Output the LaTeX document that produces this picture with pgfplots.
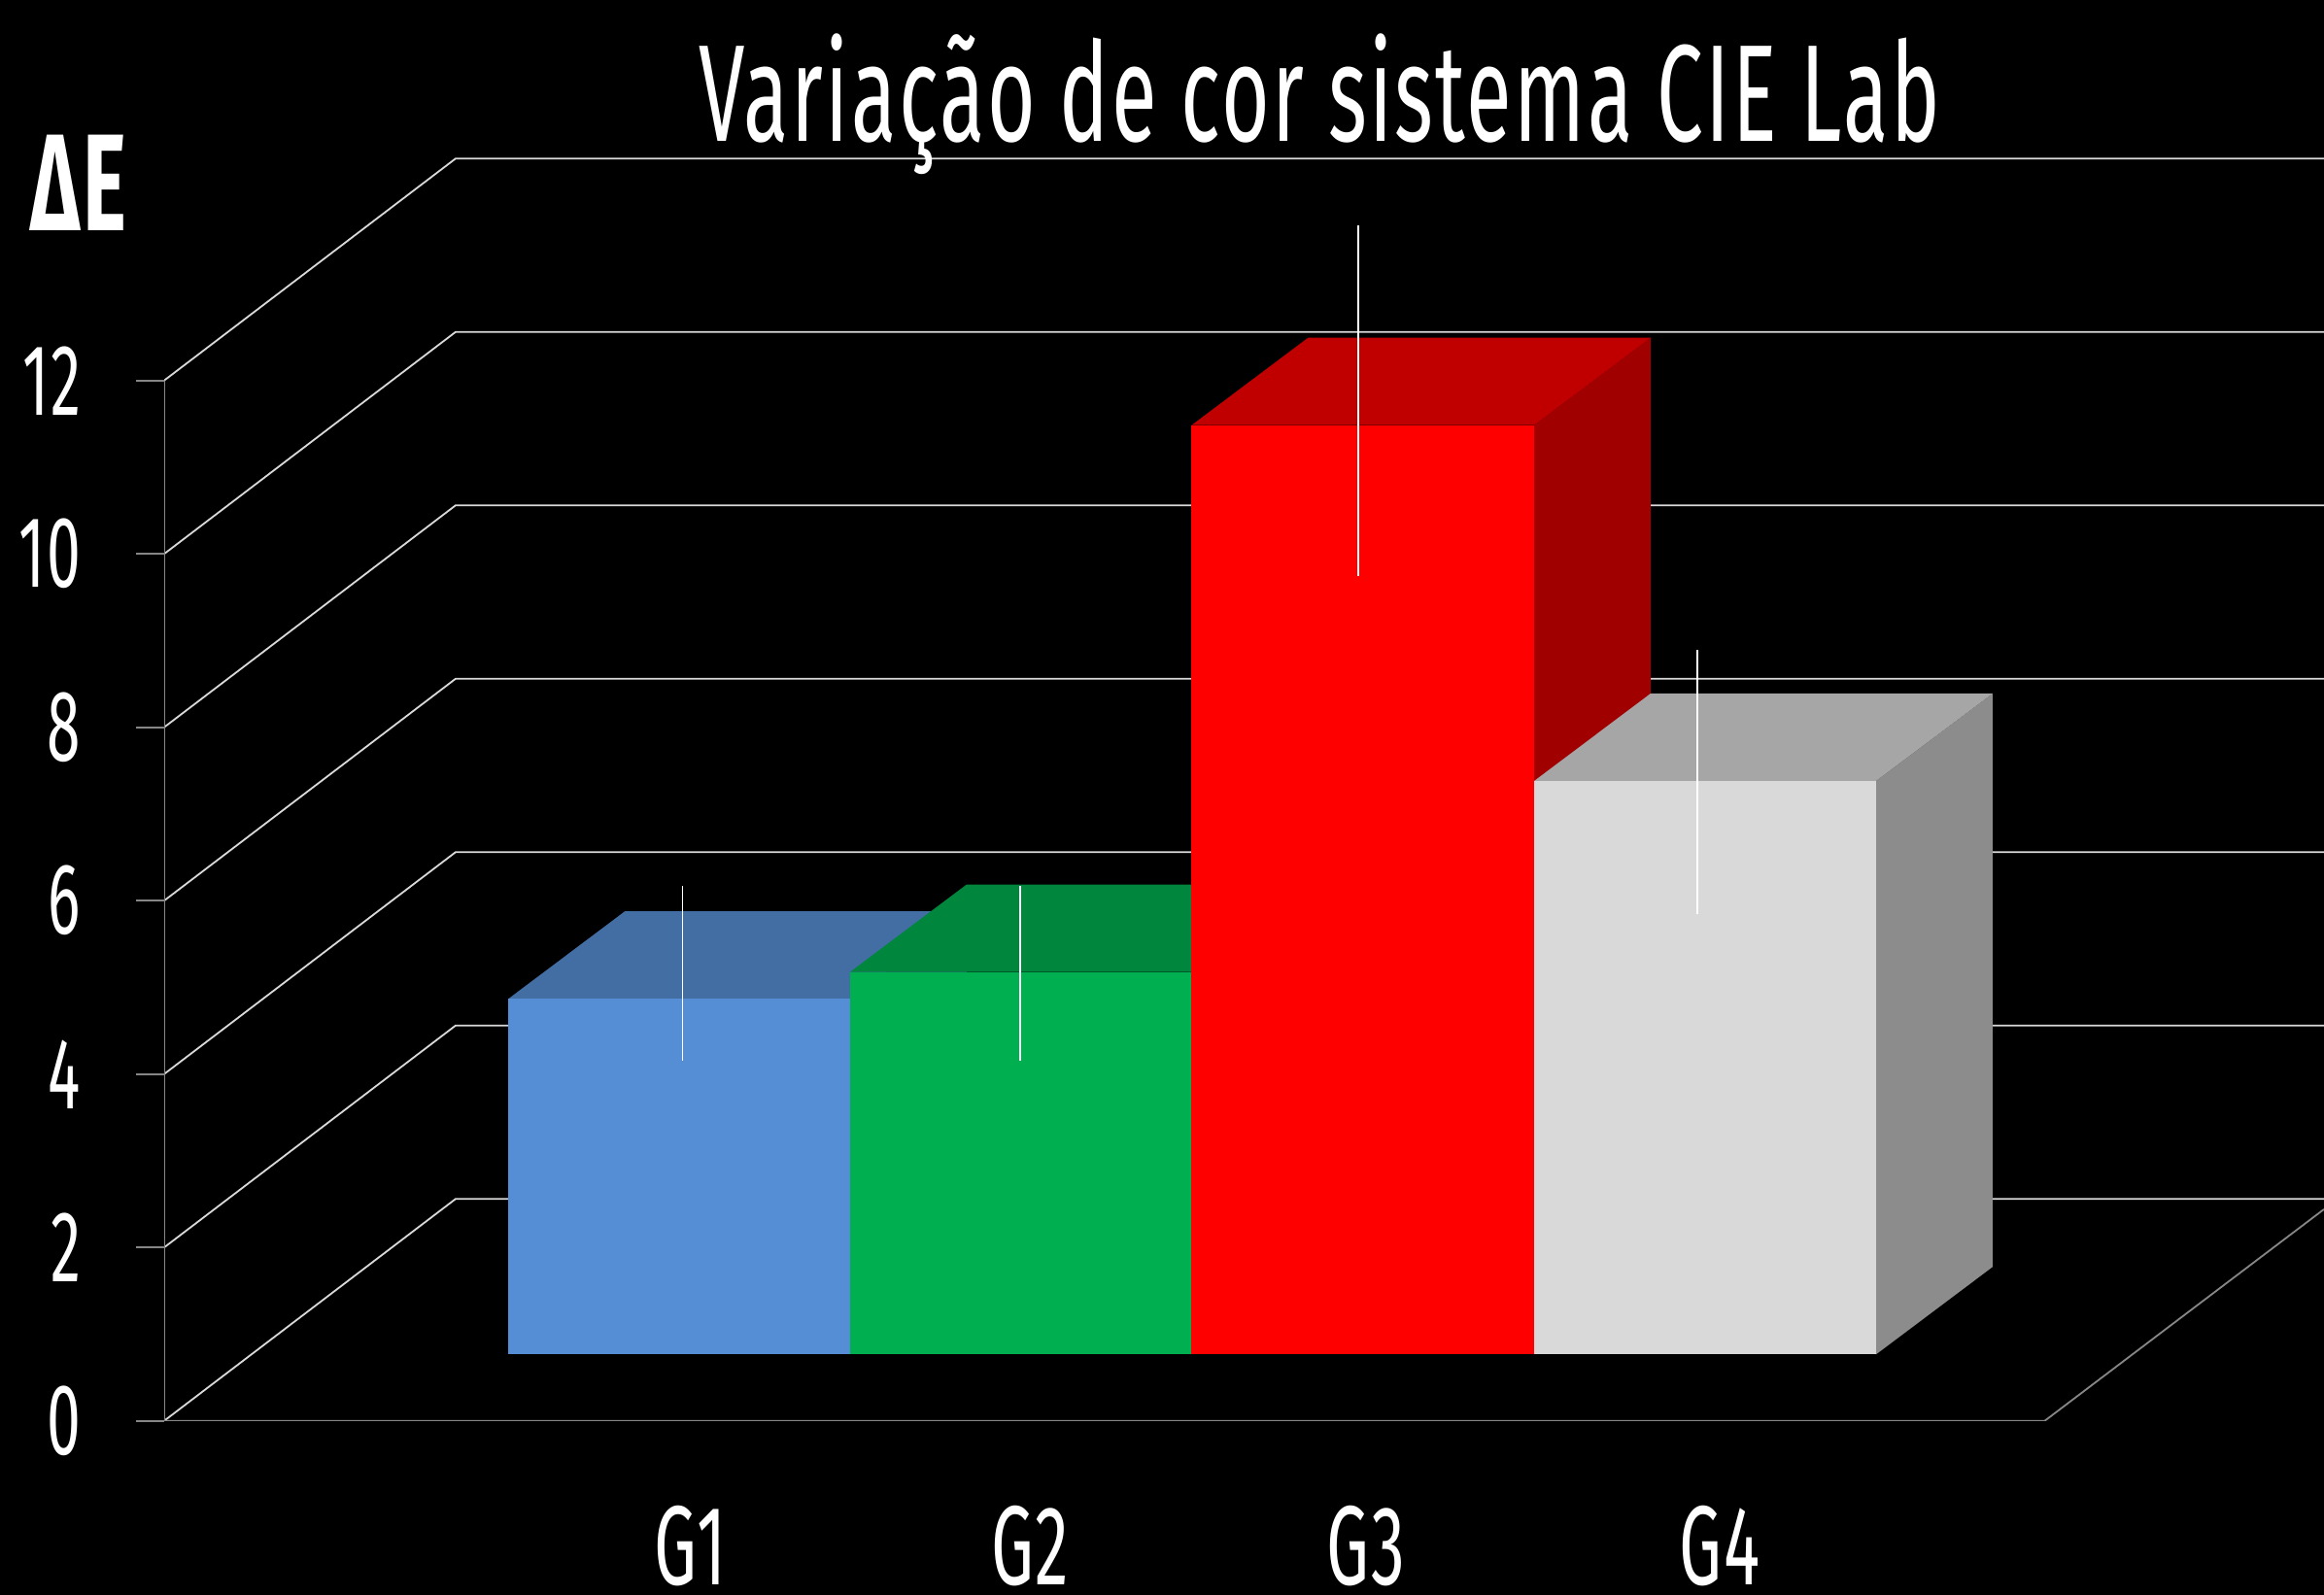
\documentclass[border=0pt]{standalone}
\usepackage{fontspec}
\setmainfont[FakeStretch=0.6,LetterSpace=1.7]{Fira Sans}
\usepackage{pgfplots}
\pgfplotsset{compat=1.18}
\definecolor{gridc}{HTML}{D9D9D9}
\definecolor{axisc}{HTML}{868686}
\definecolor{gAf}{HTML}{558ED5}\definecolor{gAt}{HTML}{426EA3}\definecolor{gAs}{HTML}{345882}
\definecolor{gBf}{HTML}{00B050}\definecolor{gBt}{HTML}{00863D}\definecolor{gBs}{HTML}{006E32}
\definecolor{gCf}{HTML}{FF0000}\definecolor{gCt}{HTML}{C00000}\definecolor{gCs}{HTML}{A00000}
\definecolor{gDf}{HTML}{D9D9D9}\definecolor{gDt}{HTML}{A6A6A6}\definecolor{gDs}{HTML}{8C8C8C}
\begin{document}
\begin{tikzpicture}
\path[use as bounding box, fill=black] (0,0) rectangle (1196pt,821pt);
\begin{axis}[
  at={(84.5pt,89.65pt)}, anchor=south west,
  scale only axis, width=1111.5pt, height=731.35pt,
  xmin=169, xmax=2392, ymin=0, ymax=16.389,
  axis line style={draw=none},
  xtick={711,1060,1406,1770},
  xticklabels={G1,G2,G3,G4},
  ytick={0,2,4,6,8,10,12},
  tick align=outside,
  xtick style={draw=none},
  ytick style={axisc, line width=0.9pt},
  major tick length=14.5pt,
  /pgf/number format/assume math mode=true,
  tick label style={white},
  yticklabel style={font=\fontsize{52}{58}\selectfont, anchor=east, xshift=-25pt},
  xticklabel style={font=\fontsize{58}{64}\selectfont, inner sep=0pt, anchor=base, yshift=-70pt},
  title={Variação de cor sistema CIE Lab},
  title style={white, font=\fontsize{71}{80}\selectfont, at={(axis description cs:0.535,0.892)}, anchor=base},
  ylabel={\textbf{ΔE}},
  ylabel style={white, font=\fontsize{71}{80}\selectfont, rotate=-90, at={(axis description cs:-0.039,0.8373)}, anchor=base},
]
% wall and floor grid lines
\addplot[gridc, line width=0.9pt] coordinates {(169,0) (469,2.56) (2392,2.56)};
\addplot[gridc, line width=0.9pt] coordinates {(169,2) (469,4.56) (2392,4.56)};
\addplot[gridc, line width=0.9pt] coordinates {(169,4) (469,6.56) (2392,6.56)};
\addplot[gridc, line width=0.9pt] coordinates {(169,6) (469,8.56) (2392,8.56)};
\addplot[gridc, line width=0.9pt] coordinates {(169,8) (469,10.56) (2392,10.56)};
\addplot[gridc, line width=0.9pt] coordinates {(169,10) (469,12.56) (2392,12.56)};
\addplot[gridc, line width=0.9pt] coordinates {(169,12) (469,14.56) (2392,14.56)};
\addplot[axisc, line width=0.9pt] coordinates {(169,12) (169,0) (2104.6,0) (2392,2.44)};
% G1
\addplot[fill=gAs, draw=none] coordinates {(875,0.766) (995,1.776) (995,5.878) (875,4.868)} -- cycle;
\addplot[fill=gAt, draw=none] coordinates {(523.3,4.868) (875,4.868) (995,5.878) (643.3,5.878)} -- cycle;
\addplot[fill=gAf, draw=none] coordinates {(523.3,0.766) (875,0.766) (875,4.868) (523.3,4.868)} -- cycle;
% G2
\addplot[fill=gBs, draw=none] coordinates {(1226.5,0.766) (1346.5,1.776) (1346.5,6.187) (1226.5,5.177)} -- cycle;
\addplot[fill=gBt, draw=none] coordinates {(875,5.177) (1226.5,5.177) (1346.5,6.187) (995,6.187)} -- cycle;
\addplot[fill=gBf, draw=none] coordinates {(875,0.766) (1226.5,0.766) (1226.5,5.177) (875,5.177)} -- cycle;
% G3
\addplot[fill=gCs, draw=none] coordinates {(1579,0.766) (1699,1.776) (1699,12.494) (1579,11.484)} -- cycle;
\addplot[fill=gCt, draw=none] coordinates {(1226.5,11.484) (1579,11.484) (1699,12.494) (1346.5,12.494)} -- cycle;
\addplot[fill=gCf, draw=none] coordinates {(1226.5,0.766) (1579,0.766) (1579,11.484) (1226.5,11.484)} -- cycle;
% G4
\addplot[fill=gDs, draw=none] coordinates {(1931,0.766) (2051,1.776) (2051,8.39) (1931,7.38)} -- cycle;
\addplot[fill=gDt, draw=none] coordinates {(1579,7.38) (1931,7.38) (2051,8.39) (1699,8.39)} -- cycle;
\addplot[fill=gDf, draw=none] coordinates {(1579,0.766) (1931,0.766) (1931,7.38) (1579,7.38)} -- cycle;
% error bars
\addplot[draw=none, mark=none, error bars/.cd, y dir=both, y explicit, error mark=none,
  error bar style={white, line width=0.9pt}] coordinates {
  (702.5,5.16) +- (0,1.01)
  (1050.3,5.16) +- (0,1.01)
  (1398,11.77) +- (0,2.02)
  (1746.7,7.37) +- (0,1.52)
};
\end{axis}
\end{tikzpicture}
\end{document}
